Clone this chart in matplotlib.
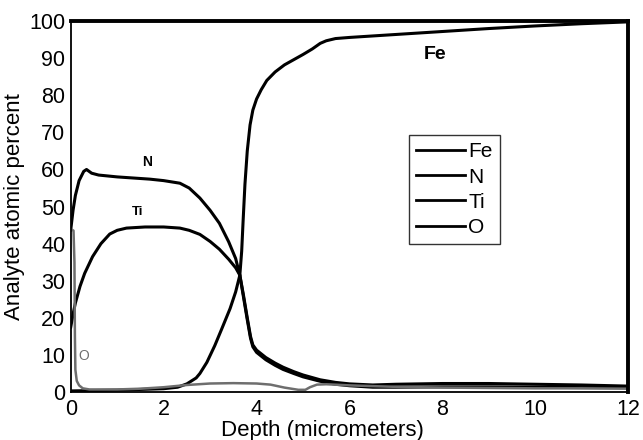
import matplotlib
matplotlib.use("Agg")
import matplotlib.pyplot as plt

plt.rcParams["font.family"] = ["Liberation Sans", "DejaVu Sans"]

# Diepteprofielen (x in micrometer, y in atoomprocent)
fe_x = [0.0, 1.0, 2.0, 2.3, 2.5, 2.7, 2.78, 2.93, 3.1, 3.25, 3.43, 3.55, 3.64, 3.68, 3.71, 3.75, 3.8, 3.86, 3.92, 4.0, 4.1, 4.22, 4.4, 4.6, 4.8, 5.0, 5.2, 5.37, 5.5, 5.7, 6.0, 7.0, 8.0, 9.0, 10.0, 11.0, 12.0]
fe_y = [0.3, 0.5, 0.9, 1.3, 2.2, 3.8, 5.0, 8.0, 12.5, 17.0, 22.5, 27.0, 31.5, 38.0, 46.0, 56.0, 65.0, 72.0, 76.0, 79.0, 81.5, 84.0, 86.3, 88.2, 89.6, 91.0, 92.5, 94.0, 94.7, 95.3, 95.6, 96.4, 97.2, 98.0, 98.7, 99.3, 99.8]

n_x = [0.0, 0.05, 0.1, 0.18, 0.28, 0.34, 0.45, 0.6, 1.0, 1.7, 2.0, 2.35, 2.55, 2.78, 3.0, 3.2, 3.4, 3.55, 3.64, 3.72, 3.8, 3.87, 3.92, 4.0, 4.2, 4.4, 4.57, 4.8, 5.0, 5.37, 5.7, 6.0, 6.5, 7.0, 8.0, 9.0, 10.0, 11.0, 12.0]
n_y = [43.7, 49.0, 53.0, 57.0, 59.5, 60.0, 59.0, 58.5, 58.0, 57.4, 57.0, 56.3, 55.0, 52.3, 49.0, 45.5, 40.5, 36.0, 31.5, 26.0, 20.0, 15.0, 12.7, 11.3, 9.3, 7.8, 6.7, 5.5, 4.6, 3.3, 2.6, 2.2, 1.9, 2.1, 2.3, 2.3, 2.1, 1.9, 1.6]

ti_x = [0.0, 0.05, 0.1, 0.2, 0.3, 0.47, 0.65, 0.84, 1.0, 1.2, 1.6, 2.0, 2.35, 2.55, 2.78, 3.0, 3.2, 3.4, 3.55, 3.64, 3.72, 3.8, 3.87, 3.92, 4.0, 4.2, 4.4, 4.57, 4.8, 5.0, 5.37, 5.7, 6.0, 6.5, 7.0, 8.0, 9.0, 10.0, 11.0, 12.0]
ti_y = [17.5, 21.0, 24.0, 28.5, 32.0, 36.5, 40.0, 42.6, 43.6, 44.2, 44.5, 44.5, 44.2, 43.6, 42.5, 40.6, 38.5, 35.8, 33.5, 31.5, 25.5, 19.5, 14.5, 12.2, 10.7, 8.7, 7.2, 6.1, 5.0, 4.1, 2.9, 2.1, 1.7, 1.3, 1.3, 1.4, 1.4, 1.3, 1.2, 1.2]

o_x = [0.0, 0.06, 0.08, 0.09, 0.1, 0.13, 0.18, 0.26, 0.4, 1.0, 1.5, 2.0, 2.5, 3.0, 3.5, 4.0, 4.3, 4.6, 4.9, 5.05, 5.15, 5.3, 5.5, 6.0, 7.0, 8.0, 9.0, 10.0, 11.0, 12.0]
o_y = [44.0, 43.5, 35.0, 15.0, 6.0, 3.0, 1.8, 1.0, 0.7, 0.7, 0.9, 1.3, 1.9, 2.3, 2.4, 2.3, 2.0, 1.2, 0.6, 0.6, 1.3, 2.0, 2.1, 1.8, 1.4, 1.2, 1.1, 1.0, 1.0, 0.9]

x_ticks = [0, 2, 4, 6, 8, 10, 12]
y_ticks = [0, 10, 20, 30, 40, 50, 60, 70, 80, 90, 100]

fig = plt.figure(figsize=(6.43, 4.40), dpi=100)
ax = fig.add_axes([0.110, 0.109, 0.867, 0.843])

ax.plot(fe_x, fe_y, color="black", lw=2.2, label="Fe", solid_joinstyle="round")
ax.plot(n_x, n_y, color="black", lw=2.2, label="N", solid_joinstyle="round")
ax.plot(ti_x, ti_y, color="black", lw=2.2, label="Ti", solid_joinstyle="round")
ax.plot(o_x, o_y, color="#6e6e6e", lw=1.8, label="O", solid_joinstyle="round")

# Labels bij de curves
ax.text(7.85, 91, "Fe", fontsize=14, fontweight="bold", ha="center", va="center")
ax.text(1.65, 62, "N", fontsize=10, fontweight="bold", ha="center", va="center")
ax.text(1.45, 48.5, "Ti", fontsize=9.5, fontweight="bold", ha="center", va="center")
ax.text(0.28, 9.7, "O", fontsize=10, color="#6e6e6e", ha="center", va="center")

ax.set_xlim(0, 12)
ax.set_ylim(0, 100)
ax.set_xticks(x_ticks)
ax.set_yticks(y_ticks)
ax.tick_params(axis="x", length=0, labelsize=15.5, pad=5)
ax.tick_params(axis="y", length=0, labelsize=15.5, pad=4)

# x-label staat in het origineel midden onder de hele figuur
ax.set_xlabel("Depth (micrometers)", fontsize=16)
ax.xaxis.set_label_coords(0.452, -0.075)
ax.set_ylabel("Analyte atomic percent", fontsize=16, labelpad=3)

for kant in ["left", "bottom"]:
    ax.spines[kant].set_linewidth(1.3)
for kant in ["top", "right"]:
    ax.spines[kant].set_linewidth(2.8)

leg = ax.legend(loc="upper left", bbox_to_anchor=(0.607, 0.693), fontsize=15,
                frameon=True, fancybox=False, edgecolor="black",
                handlelength=2.35, handletextpad=0.15, labelspacing=0.3,
                borderpad=0.35, borderaxespad=0)
leg.get_frame().set_linewidth(1.0)
for lijn in leg.get_lines():
    lijn.set_color("black")
    lijn.set_linewidth(2.0)

fig.savefig("out.png", dpi=100)
